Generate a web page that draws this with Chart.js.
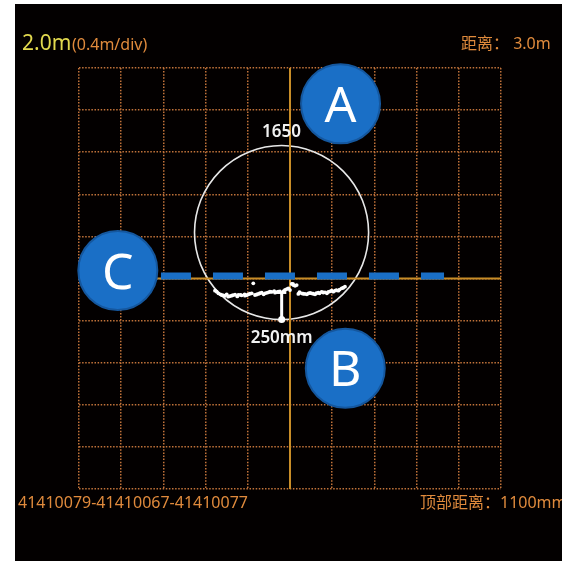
<!DOCTYPE html>
<html>
<head>
<meta charset="utf-8">
<script src="https://cdn.jsdelivr.net/npm/chart.js@4"></script>
<style>
  html, body { margin: 0; padding: 0; background: #fff; }
  #bg { position: absolute; left: 15px; top: 4px; width: 547px; height: 557px; background: #030000; }
  #myChart { position: absolute; left: 0; top: 0; }
</style>
</head>
<body>
<div id="bg"></div>
<canvas id="myChart" width="562" height="561"></canvas>
<script>
// axis range in mm (0.4m per div, 10 divs)
const axisMin = -2000;
const axisMax = 2000;
const divStep = 400;

// pipe section, mm
const pipeCenter = [-80, 436];
const pipeDiameter = 1650;

// scanned bottom profile, mm
const cloudX = [-711, -695, -679, -660, -648, -630, -616, -600, -585, -570, -553, -540, -521, -500, -490, -470, -458, -430, -427, -410, -395,
  -380, -363, -348, -332, -315, -300, -285, -268, -250, -237, -220, -205, -190, -174, -150, -142, -125, -111, -95, -60, -47, -30, -16,
  0, 16, 28, 32, 48, 63, 79, 90, 111, 125, 142, 160, 174, 190, 205, 220, 237, 250, 268, 280, 300, 315, 332, 350, 363, 380, 395,
  410, 427, 440, 458, 470, 490, 505, 521];
const cloudY = [-116, -125, -141, -150, -157, -160, -166, -150, -173, -168, -163, -158, -154, -170, -157, -155, -160, -150, -163, -158, -150,
  -145, -141, -46, -157, -152, -147, -140, -135, -150, -141, -136, -131, -126, -128, -120, -135, -130, -125, -122, -120, -109, -100, -93,
  -110, -52, -52, -62, -70, -62, -147, -130, -141, -145, -147, -150, -141, -138, -141, -145, -150, -140, -135, -140, -128, -133, -131, -140, -128, -122, -116,
  -125, -116, -110, -116, -105, -93, -88, -78];

// gap marker between pipe bottom and profile
const gapX = [-79, -79];
const gapY = [-138, -389];
const gapBarX = [-120, -35];
const gapBarY = [-135, -135];

// water level line
const waterX = [-1223, 1460];
const waterY = [24, 24];

// callouts
const calloutLabels = ['A', 'B', 'C'];
const calloutX = [479, 524, -1632];
const calloutY = [1660, -853, 76];

// label positions (mm)
const diameterLabel = '1650';
const diameterLabelPos = [-80, 1341];
const gapLabel = '250mm';
const gapLabelPos = [-80, -615];

const headerBig = '2.0m';
const headerSmall = '(0.4m/div)';
const distText = '距离： 3.0m';
const idText = '41410079-41410067-41410077';
const topDistText = '顶部距离：1100mm';

const FONT = '"Noto Sans", "Noto Sans CJK SC", sans-serif';
const ORANGE = '#e08a3c';

function pts(xs, ys) {
  return xs.map((v, i) => ({ x: v, y: ys[i] }));
}

const overlay = {
  id: 'overlay',
  beforeDatasetsDraw(chart) {
    const { ctx, scales: { x, y } } = chart;
    const cx = x.getPixelForValue(pipeCenter[0]);
    const cy = y.getPixelForValue(pipeCenter[1]);
    const r = x.getPixelForValue(pipeCenter[0] + pipeDiameter / 2) - cx;
    ctx.save();
    ctx.strokeStyle = '#e8e8e8';
    ctx.lineWidth = 1.6;
    ctx.beginPath();
    ctx.arc(cx, cy, r, 0, Math.PI * 2);
    ctx.stroke();
    ctx.restore();
  },
  afterDatasetsDraw(chart) {
    const { ctx, scales: { x, y } } = chart;
    ctx.save();
    ctx.textAlign = 'center';
    ctx.textBaseline = 'alphabetic';
    ctx.fillStyle = '#fff';
    ctx.font = '50px ' + FONT;
    calloutLabels.forEach((t, i) => {
      ctx.fillText(t, x.getPixelForValue(calloutX[i]), y.getPixelForValue(calloutY[i]) + 18);
    });
    ctx.fillStyle = '#f2f2f2';
    ctx.font = '600 17px ' + FONT;
    ctx.fillText(diameterLabel, x.getPixelForValue(diameterLabelPos[0]), y.getPixelForValue(diameterLabelPos[1]));
    ctx.fillText(gapLabel, x.getPixelForValue(gapLabelPos[0]), y.getPixelForValue(gapLabelPos[1]));

    // header / footer texts
    ctx.textAlign = 'left';
    ctx.fillStyle = '#e2d94e';
    ctx.font = '21px ' + FONT;
    ctx.fillText(headerBig, 22, 50);
    ctx.fillStyle = ORANGE;
    ctx.font = '16px ' + FONT;
    ctx.fillText(headerSmall, 72, 50);
    ctx.fillText(distText, 461, 49);
    ctx.fillText(idText, 18, 508);
    ctx.fillText(topDistText, 420, 508);
    ctx.restore();
  }
};

const gridOpts = {
  type: 'linear',
  min: axisMin,
  max: axisMax,
  ticks: { display: false, stepSize: divStep },
  grid: { color: '#c2733a', lineWidth: 1.5, drawTicks: false },
  border: { display: false, dash: [1.5, 1.6] }
};

const ctx = document.getElementById('myChart').getContext('2d');
const chart = new Chart(ctx, {
  type: 'scatter',
  data: {
    datasets: [
      {
        // callout bubbles
        data: pts(calloutX, calloutY),
        pointRadius: 39.5,
        pointHoverRadius: 39.5,
        backgroundColor: '#1a6fc6',
        borderColor: '#15579e',
        borderWidth: 2,
        clip: false,
        order: 0
      },
      {
        data: pts(gapX, gapY),
        showLine: true,
        borderColor: '#fff',
        borderWidth: 3,
        pointRadius: [0, 3.5],
        pointBackgroundColor: '#fff',
        pointBorderWidth: 0,
        order: 1
      },
      {
        data: pts(gapBarX, gapBarY),
        showLine: true,
        borderColor: '#fff',
        borderWidth: 2.5,
        pointRadius: 0,
        order: 1
      },
      {
        data: pts(cloudX, cloudY),
        pointRadius: 1.9,
        backgroundColor: '#fff',
        borderWidth: 0,
        order: 1
      },
      {
        data: pts(waterX, waterY),
        showLine: true,
        borderColor: '#1a6fc6',
        borderWidth: 7,
        borderDash: [30, 22],
        pointRadius: 0,
        order: 2
      },
      {
        data: pts([0, 0], [axisMin, axisMax]),
        showLine: true,
        borderColor: '#c98d28',
        borderWidth: 2,
        pointRadius: 0,
        order: 3
      },
      {
        data: pts([axisMin, axisMax], [0, 0]),
        showLine: true,
        borderColor: '#c98d28',
        borderWidth: 2,
        pointRadius: 0,
        order: 3
      }
    ]
  },
  options: {
    responsive: false,
    animation: false,
    layout: { padding: { left: 79, right: 61, top: 68, bottom: 72 } },
    plugins: { legend: { display: false }, tooltip: { enabled: false } },
    scales: { x: gridOpts, y: gridOpts }
  },
  plugins: [overlay]
});
</script>
</body>
</html>
